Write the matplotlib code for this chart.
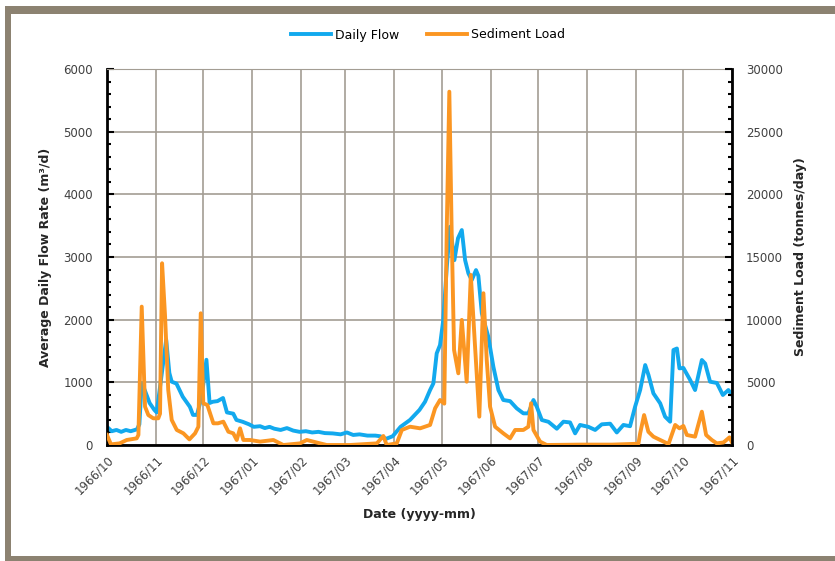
import numpy as np
import pandas as pd
import matplotlib
matplotlib.use("Agg")
import matplotlib.pyplot as plt
import matplotlib.dates as mdates
from matplotlib.patches import Rectangle
from matplotlib.ticker import MultipleLocator

# valores (dias desde 1966-10-01)
start = pd.Timestamp("1966-10-01")

flow_day = [0, 3, 6, 9, 12, 15, 19, 20.5, 22, 24, 27, 30, 31.5, 34.5, 37.5, 39.5, 41, 44, 48, 52.5,
            54.5, 57, 60, 63, 65, 67, 70, 73.5, 76, 80, 82, 86, 90, 93, 97, 100, 103, 106, 110, 114,
            118, 122, 126, 130, 134, 138, 143, 148, 152, 156, 160, 165, 170, 173, 177, 181, 186, 192, 198, 201.5,
            204.7, 206.8, 208.9, 211, 213.1, 215.3, 217.4, 220.1, 222.4, 224.8, 226.9, 229, 231.1, 233.8, 235.3, 237.5, 241.6, 244.8, 248, 251.1,
            255.4, 259.6, 263.8, 267, 270.2, 272.3, 275.5, 279.7, 285, 289.2, 293.4, 296.6, 299.7, 305, 309.3, 313.5, 318.8, 323, 327.2, 331.4,
            334.6, 337.8, 341, 343.1, 346.2, 350.5, 353.6, 356.8, 358.9, 361.1, 362.7, 365.2, 369.5, 372.6, 376.9, 379, 382.1, 386.4, 390.2, 393.7,
            396]
flow_val = [290, 220, 240, 210, 240, 220, 250, 330, 990, 870, 670, 560, 520, 1100, 1680, 1150, 1010, 980, 770, 610,
            480, 480, 770, 1360, 670, 690, 700, 750, 520, 500, 400, 370, 330, 290, 300, 270, 290, 260, 240, 270,
            230, 210, 220, 200, 210, 190, 185, 170, 200, 160, 170, 150, 150, 140, 100, 140, 290, 400, 560, 690,
            877, 984, 1462, 1595, 2000, 2844, 3482, 2950, 3300, 3430, 2950, 2738, 2632, 2791, 2700, 2100, 1727, 1249, 877, 718,
            700, 585, 505, 505, 718, 611, 399, 370, 260, 372, 360, 186, 320, 290, 240, 330, 340, 200, 320, 300,
            611, 877, 1276, 1116, 824, 665, 452, 372, 1516, 1540, 1223, 1230, 1037, 877, 1356, 1300, 1010, 990, 798, 877,
            800]

sed_day = [0, 2.5, 8, 12.5, 18.8, 19.9, 22, 24.1, 26.2, 29.3, 32.5, 33.6, 34.9, 36.8, 38.8, 41, 44.2, 48.4, 52.2, 55.8,
           57.9, 59.4, 61, 63.6, 65.3, 67.4, 70.3, 73.7, 76.9, 80, 82.2, 84.3, 86.4, 90.6, 97, 105.4, 111.7, 122.3, 126.6, 135,
           139.2, 154, 171, 175.1, 177.2, 183.6, 186.8, 192, 198.4, 204.7, 207.9, 211, 213.7, 215.3, 216.9, 218.4, 219.9, 222.6, 224.8, 227.9,
           230.5, 233.2, 235.9, 238.5, 240.6, 242.7, 245.9, 251.1, 255.4, 258.6, 263.8, 267, 268.7, 270.2, 274.4, 278.6, 300, 320, 336.7, 337.8,
           340.3, 343, 346.2, 350.5, 355.8, 360, 362.7, 365.2, 367.4, 372.6, 376.9, 379.6, 383.2, 386.4, 390.6, 394.4, 396]
sed_val = [800, 50, 130, 400, 530, 800, 11040, 3060, 2390, 2130, 2130, 2500, 14500, 10240, 4390, 2000, 1200, 930, 450, 930,
           1460, 10510, 3330, 3190, 2530, 1730, 1730, 1860, 1060, 930, 400, 1330, 400, 400, 270, 400, 0, 130, 400, 130,
           0, 0, 130, 720, 0, 130, 1200, 1460, 1330, 1600, 2930, 3590, 3300, 17420, 28190, 16890, 7580, 5720, 9980, 5050,
           13570, 7850, 2260, 12110, 6780, 3060, 1460, 930, 530, 1200, 1200, 1460, 3330, 1200, 270, 0, 30, 30, 100, 930,
           2390, 1060, 665, 400, 80, 1600, 1330, 1520, 800, 665, 2660, 800, 400, 130, 200, 610, 200]

flow_dates = start + pd.to_timedelta(flow_day, unit="D")
sed_dates = start + pd.to_timedelta(sed_day, unit="D")

BLUE = "#12a9ee"
ORANGE = "#fb9622"
GRID = "#a39d93"
TXT = "#404040"

plt.rcParams.update({"font.family": "DejaVu Sans", "font.size": 8.5})

fig = plt.figure(figsize=(8.35, 5.61), dpi=100)
W, H = 835, 561
# moldura cinza à volta do gráfico (lado direito cortado, como no original)
fig.patches.append(Rectangle((5 / W, 0), 2, 1 - 6 / H, transform=fig.transFigure,
                             facecolor="#8c8271", edgecolor="none", zorder=-3))
fig.patches.append(Rectangle((11 / W, 5 / H), 2, 1 - 19 / H, transform=fig.transFigure,
                             facecolor="white", edgecolor="none", zorder=-2))

ax1 = fig.add_axes([107 / W, 1 - 445 / H, (732 - 107) / W, (445 - 69) / H])
ax1.set_facecolor("none")
ax1.plot(flow_dates, flow_val, color=BLUE, lw=2.8, label="Daily Flow", solid_joinstyle="round")
ax1.set_xlim(pd.Timestamp("1966-10-01"), pd.Timestamp("1967-11-01"))
ax1.set_ylim(0, 6000)
ax1.yaxis.set_major_locator(MultipleLocator(1000))
ax1.yaxis.set_minor_locator(MultipleLocator(200))
ax1.xaxis.set_major_locator(mdates.MonthLocator())
ax1.xaxis.set_major_formatter(mdates.DateFormatter("%Y/%m"))
ax1.grid(True, color=GRID, lw=1.2)
ax1.set_axisbelow(True)
for lab in ax1.get_xticklabels():
    lab.set_rotation(45)
    lab.set_ha("right")
    lab.set_rotation_mode("anchor")
ax1.tick_params(axis="x", length=0, pad=6, colors=TXT, labelsize=8.5)
ax1.tick_params(axis="y", which="major", direction="in", length=5, width=1.5, colors="black",
                labelcolor=TXT, labelsize=8.5, pad=10)
ax1.tick_params(axis="y", which="minor", direction="in", length=3, width=1.5)
ax1.set_ylabel("Average Daily Flow Rate (m³/d)", fontweight="bold", color="#262626", fontsize=9, labelpad=8)
ax1.set_xlabel("Date (yyyy-mm)", fontweight="bold", color="#262626", fontsize=9, labelpad=8)
for s in ["left", "bottom"]:
    ax1.spines[s].set_linewidth(2)
ax1.spines["top"].set_color(GRID)
ax1.spines["right"].set_visible(False)

ax2 = ax1.twinx()
ax2.plot(sed_dates, sed_val, color=ORANGE, lw=2.8, label="Sediment Load", solid_joinstyle="round")
ax2.set_ylim(0, 30000)
ax2.yaxis.set_major_locator(MultipleLocator(5000))
ax2.yaxis.set_minor_locator(MultipleLocator(1000))
ax2.tick_params(axis="y", which="major", direction="in", length=5, width=1.5, colors="black",
                labelcolor=TXT, labelsize=8.5, pad=10)
ax2.tick_params(axis="y", which="minor", direction="in", length=3, width=1.5)
ax2.set_ylabel("Sediment Load (tonnes/day)", fontweight="bold", color="#262626", fontsize=9, labelpad=8)
ax2.spines["right"].set_linewidth(2)
ax2.spines["left"].set_visible(False)
ax2.spines["top"].set_visible(False)
ax2.spines["bottom"].set_visible(False)

h1, l1 = ax1.get_legend_handles_labels()
h2, l2 = ax2.get_legend_handles_labels()
fig.legend(h1 + h2, l1 + l2, loc="center", bbox_to_anchor=(428 / W, 1 - 35 / H), ncol=2,
           frameon=False, handlelength=3.2, handletextpad=0.3, columnspacing=2.2, fontsize=9)

fig.savefig("out.png", dpi=100)
